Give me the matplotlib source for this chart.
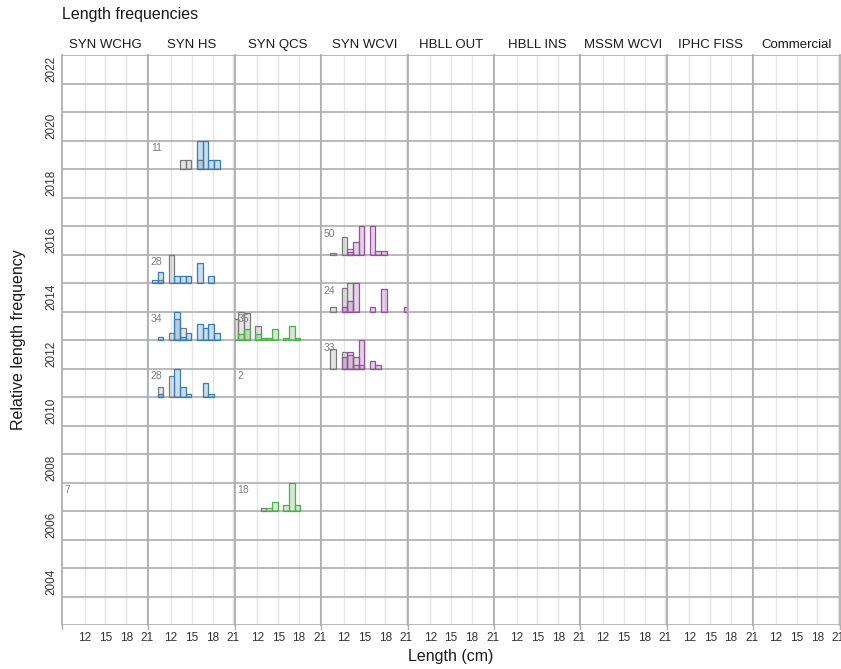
import matplotlib
matplotlib.use('Agg')
import matplotlib.pyplot as plt
import numpy as np

plt.rcParams['font.family'] = ['Liberation Sans', 'DejaVu Sans']

surveys = ["SYN WCHG", "SYN HS", "SYN QCS", "SYN WCVI", "HBLL OUT",
           "HBLL INS", "MSSM WCVI", "IPHC FISS", "Commercial"]
years = list(range(2003, 2023))
year_ticks = list(range(2004, 2023, 2))
x_ticks = [12, 15, 18, 21]

# histogram bins (cm), 16 bins
bin_width = 0.815
bin_start = 8.415

# relative heights (1 = tallest bar in the panel)
hs19_f = [0, 0, 0, 0, 0, 0, 0, 0, 0, 1, 1, .33, .33, 0, 0, 0]
hs19_m = [0, 0, 0, 0, 0, 0, .33, .33, 0, .33, 0, 0, 0, 0, 0, 0]
hs15_f = [0, .12, .4, 0, 0, .26, .26, .26, 0, .7, 0, .26, 0, 0, 0, 0]
hs15_m = [0, 0, .12, 0, 1, 0, 0, 0, 0, 0, 0, 0, 0, 0, 0, 0]
hs13_f = [0, 0, .12, 0, 0, 1, .12, .26, 0, .57, .41, .57, .26, 0, 0, 0]
hs13_m = [0, 0, 0, 0, .26, .72, .41, 0, 0, 0, 0, 0, 0, 0, 0, 0]
hs11_f = [0, 0, .1, 0, 0, 1, .34, .1, 0, 0, .49, .1, 0, 0, 0, 0]
hs11_m = [0, 0, .34, 0, .73, 0, 0, 0, 0, 0, 0, 0, 0, 0, 0, 0]

qcs13_f = [0, .22, .37, 0, .22, .07, .07, .37, 0, .07, .49, .07, 0, 0, 0, 0]
qcs13_m = [.75, 1, .95, 0, .49, 0, 0, 0, 0, 0, 0, 0, 0, 0, 0, 0]
qcs07_f = [0, 0, 0, 0, 0, 0, .11, .33, 0, .22, 1, .22, 0, 0, 0, 0]
qcs07_m = [0, 0, 0, 0, 0, .11, 0, 0, 0, 0, 0, 0, 0, 0, 0, 0]

wcvi16_f = [0, 0, 0, 0, 0, .1, .44, 1, 0, 1, .12, .12, 0, 0, 0, 0]
wcvi16_m = [0, 0, .05, 0, .61, .21, 0, 0, 0, 0, 0, 0, 0, 0, 0, 0]
wcvi14_f = [0, 0, 0, 0, .15, .37, 1, 0, 0, .15, 0, .78, 0, 0, 0, .15]
wcvi14_m = [0, 0, .15, 0, .81, 1, 0, 0, 0, 0, 0, 0, 0, 0, 0, 0]
wcvi12_f = [0, 0, 0, 0, .39, .57, .42, 1, 0, .27, .12, 0, 0, 0, 0, 0]
wcvi12_m = [0, 0, .7, 0, .57, .48, .12, .12, 0, 0, 0, 0, 0, 0, 0, 0]

# (survey, year, female, male)
hists = [
    ("SYN HS", 2019, hs19_f, hs19_m),
    ("SYN HS", 2015, hs15_f, hs15_m),
    ("SYN HS", 2013, hs13_f, hs13_m),
    ("SYN HS", 2011, hs11_f, hs11_m),
    ("SYN QCS", 2013, qcs13_f, qcs13_m),
    ("SYN QCS", 2007, qcs07_f, qcs07_m),
    ("SYN WCVI", 2016, wcvi16_f, wcvi16_m),
    ("SYN WCVI", 2014, wcvi14_f, wcvi14_m),
    ("SYN WCVI", 2012, wcvi12_f, wcvi12_m),
]

# number of fish measured
n_survey = ["SYN WCHG", "SYN HS", "SYN HS", "SYN HS", "SYN HS",
            "SYN QCS", "SYN QCS", "SYN QCS", "SYN WCVI", "SYN WCVI", "SYN WCVI"]
n_year = [2007, 2019, 2015, 2013, 2011, 2013, 2011, 2007, 2016, 2014, 2012]
n_fish = [7, 11, 28, 34, 28, 35, 2, 18, 50, 24, 33]

colours = {"SYN WCHG": "#E41A1C", "SYN HS": "#377EB8",
           "SYN QCS": "#4DAF4A", "SYN WCVI": "#984EA3"}

xlim = (8.73, 21.2)
ylim = (2002.5, 2022.5)

fig = plt.figure(figsize=(8.41, 6.69), dpi=100)
left, bottom = 62 / 841, 1 - 625 / 669
pw, ph = 86.4 / 841, 570 / 669

centers = bin_start + bin_width * (np.arange(16) + 0.5)


def draw_bars(ax, heights, base, fc, ec, z):
    h = np.array(heights, dtype=float)
    keep = h > 0
    ax.bar(centers[keep], h[keep], width=bin_width, bottom=base, align='center',
           facecolor=fc, edgecolor=ec, lw=0.9, zorder=z)


for i, s in enumerate(surveys):
    ax = fig.add_axes([left + i * pw, bottom, pw, ph])
    ax.set_xlim(*xlim)
    ax.set_ylim(*ylim)
    for y in years:
        ax.axhline(y - 0.5, color='#b4b4b4', lw=1.3, zorder=1)
    ax.axhline(ylim[1], color='#b4b4b4', lw=1.3, zorder=1)
    for xt in x_ticks:
        ax.axvline(xt, color='#e6e6e6', lw=1.0, zorder=0)

    for (sv, yr, f, m) in hists:
        if sv != s:
            continue
        col = colours[s]
        draw_bars(ax, m, yr - 0.5, (0.5, 0.5, 0.5, 0.2), '#7a7a7a', 3)
        draw_bars(ax, f, yr - 0.5, matplotlib.colors.to_rgba(col, 0.25), col, 4)

    for sv, yr, n in zip(n_survey, n_year, n_fish):
        if sv == s:
            ax.text(xlim[0] + 0.35, yr + 0.5 - 0.1, str(n), ha='left', va='top',
                    fontsize=7.5, color='#7f7f7f', zorder=5)

    for sp in ['top', 'bottom']:
        ax.spines[sp].set_visible(False)
    for sp in ['left', 'right']:
        ax.spines[sp].set_color('#b0b0b0')
        ax.spines[sp].set_linewidth(1.3)

    ax.set_xticks(x_ticks)
    ax.tick_params(axis='x', length=0, pad=5, labelsize=8.5, labelcolor='#333333')
    ax.set_yticks(year_ticks)
    if i == 0:
        ax.set_yticklabels([str(y) for y in year_ticks], rotation=90, va='center')
        ax.tick_params(axis='y', length=0, pad=3, labelsize=8.5, labelcolor='#333333')
    else:
        ax.tick_params(axis='y', length=0, labelleft=False)
    ax.set_title(s, fontsize=9.5, color='#1a1a1a', pad=5)

    # small tick marks at panel edges
    ax.plot([xlim[0], xlim[0]], [ylim[0], ylim[0] - 0.13], color='#b0b0b0',
            lw=1.0, clip_on=False)
    if i == len(surveys) - 1:
        ax.plot([xlim[1], xlim[1]], [ylim[0], ylim[0] - 0.13], color='#b0b0b0',
                lw=1.0, clip_on=False)

fig.text(62 / 841, 1 - 14 / 669, "Length frequencies", ha='left', va='center',
         fontsize=11.5, color='#1a1a1a')
fig.text(19 / 841, 1 - 340 / 669, "Relative length frequency", rotation=90,
         ha='center', va='center', fontsize=11.5, color='#1a1a1a')
fig.text(451 / 841, 1 - 657 / 669, "Length (cm)", ha='center', va='center',
         fontsize=11.5, color='#1a1a1a')

plt.savefig('out.png', dpi=100)
